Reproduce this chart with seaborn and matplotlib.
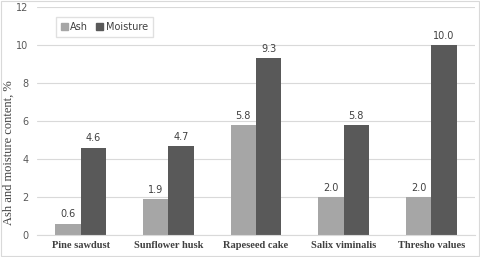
import matplotlib
matplotlib.use("Agg")
import matplotlib.pyplot as plt
import seaborn as sns
import pandas as pd
from matplotlib.patches import Patch

categories = ["Pine sawdust", "Sunflower husk", "Rapeseed cake", "Salix viminalis", "Thresho values"]
ash = [0.6, 1.9, 5.8, 2.0, 2.0]
moisture = [4.6, 4.7, 9.3, 5.8, 10.0]
series = ["Ash", "Moisture"]
colors = ["#A6A6A6", "#595959"]

df = pd.DataFrame({
    "cat": categories * 2,
    "val": ash + moisture,
    "series": ["Ash"] * len(categories) + ["Moisture"] * len(categories),
})

sns.set_style("white")
fig = plt.figure(figsize=(4.8, 2.57), dpi=100)
ax = fig.add_axes([37/480, 22/257, 438/480, 228/257])
sns.barplot(data=df, x="cat", y="val", hue="series", palette=colors,
            width=0.58, gap=0, ax=ax, legend=False, edgecolor="none", saturation=1)

ax.set_ylim(0, 12)
ax.set_yticks(range(0, 13, 2))
ax.yaxis.grid(True, color="#D9D9D9", linewidth=0.8)
ax.set_axisbelow(True)
for s in ["top", "right", "left"]:
    ax.spines[s].set_visible(False)
ax.spines["bottom"].set_color("#D9D9D9")
ax.tick_params(axis="y", length=0, labelsize=7, labelcolor="#595959", pad=6)
ax.tick_params(axis="x", length=0, pad=4)
for lab in ax.get_xticklabels():
    lab.set_family("Liberation Serif")
    lab.set_fontweight("bold")
    lab.set_fontsize(7.5)
    lab.set_color("#404040")
ax.set_xlabel("")
ax.set_ylabel("Ash and moisture content, %", family="Liberation Serif",
              fontsize=9, color="#404040")
ax.yaxis.set_label_coords(-0.05, 0.36)

for c in ax.containers:
    ax.bar_label(c, fmt="%.1f", fontsize=7, color="#404040", padding=3)

handles = [Patch(color=colors[0], label="Ash"), Patch(color=colors[1], label="Moisture")]
ax.legend(handles=handles, loc="upper left", bbox_to_anchor=(0.043, 0.956), ncol=2,
          fontsize=7, frameon=True, edgecolor="#D9D9D9", fancybox=False,
          handlelength=0.7, handleheight=0.7, handletextpad=0.3, columnspacing=0.8,
          labelcolor="#404040", borderpad=0.5, borderaxespad=0)

fig.patches.append(plt.Rectangle((0.002, 0.004), 0.996, 0.992, transform=fig.transFigure,
                                 fill=False, edgecolor="#D9D9D9", linewidth=0.8))
fig.savefig("out.png", dpi=100)
